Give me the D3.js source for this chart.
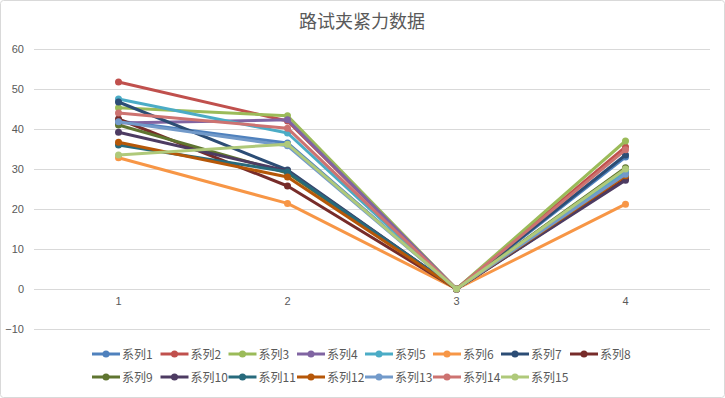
<!DOCTYPE html>
<html>
<head>
<meta charset="utf-8">
<script src="https://cdn.jsdelivr.net/npm/d3@7"></script>
<style>
  html, body { margin: 0; padding: 0; background: #fff; }
  svg { display: block; }
  text { font-family: "Liberation Sans", "Noto Sans CJK SC", sans-serif; fill: #595959; }
</style>
</head>
<body>
<svg id="chart" width="725" height="398"></svg>
<script>
const title = "路试夹紧力数据";
const categories = ["1", "2", "3", "4"];
const seriesNames = ["系列1","系列2","系列3","系列4","系列5","系列6","系列7","系列8","系列9","系列10","系列11","系列12","系列13","系列14","系列15"];
const seriesColors = ["#4F81BD","#C0504D","#9BBB59","#8064A2","#4BACC6","#F79646","#2C4D75","#772C2A","#5F7530","#4D3B62","#276A7C","#B65708","#729ACA","#CD7371","#AFC97A"];
const s1  = [42.0, 36.5, 0, 33.0];
const s2  = [51.75, 42.0, 0, 35.5];
const s3  = [45.3, 43.3, 0, 37.0];
const s4  = [41.5, 42.3, 0, 29.0];
const s5  = [47.5, 39.0, 0, 29.5];
const s6  = [32.8, 21.4, 0, 21.2];
const s7  = [46.75, 29.75, 0, 33.5];
const s8  = [42.5, 25.75, 0, 27.5];
const s9  = [41.0, 29.0, 0, 30.3];
const s10 = [39.2, 29.5, 0, 27.2];
const s11 = [36.0, 29.3, 0, 28.5];
const s12 = [36.7, 28.0, 0, 28.3];
const s13 = [41.8, 35.8, 0, 28.7];
const s14 = [44.0, 40.2, 0, 34.8];
const s15 = [33.5, 36.2, 0, 30.0];
const seriesValues = [s1,s2,s3,s4,s5,s6,s7,s8,s9,s10,s11,s12,s13,s14,s15];
const yTicks = [-10, 0, 10, 20, 30, 40, 50, 60];

const svg = d3.select("#chart");

svg.append("rect").attr("x",0.5).attr("y",0.5).attr("width",724).attr("height",397)
  .attr("rx",3).attr("fill","#fff").attr("stroke","#D9D9D9");

svg.append("text").attr("x",362).attr("y",28).attr("text-anchor","middle")
  .style("font-size","18px").style("font-family","'Noto Sans CJK SC', sans-serif").text(title);

const x = d3.scaleBand().domain(categories).range([34, 710]);
const y = d3.scaleLinear().domain([-10, 60]).range([329, 49]);
const cx = c => x(c) + x.bandwidth() / 2;

// gridlines
svg.append("g").selectAll("line").data(yTicks).join("line")
  .attr("x1", 34).attr("x2", 710)
  .attr("y1", d => Math.round(y(d)) + 0.5).attr("y2", d => Math.round(y(d)) + 0.5)
  .attr("stroke", "#D9D9D9").attr("stroke-width", 1);

// y axis labels
const yAxis = d3.axisLeft(y).tickValues(yTicks).tickSize(0).tickPadding(0);
const gy = svg.append("g").attr("transform", "translate(24,0)").call(yAxis);
gy.select(".domain").remove();
gy.selectAll("text").style("font-size", "11px").style("fill", "#595959")
  .style("font-family", "'Liberation Sans', sans-serif");

// x axis labels
const xAxis = d3.axisBottom(x).tickSize(0).tickPadding(0);
const gx = svg.append("g").attr("transform", `translate(0,${y(0) + 8})`).call(xAxis);
gx.select(".domain").remove();
gx.selectAll("text").style("font-size", "11px").style("fill", "#595959")
  .style("font-family", "'Liberation Sans', sans-serif");

// series
const line = d3.line().x((d, i) => cx(categories[i])).y(d => y(d));
seriesValues.forEach((vals, si) => {
  const g = svg.append("g");
  g.append("path").attr("d", line(vals)).attr("fill", "none")
    .attr("stroke", seriesColors[si]).attr("stroke-width", 3).attr("stroke-linejoin", "round");
  g.selectAll("circle").data(vals).join("circle")
    .attr("cx", (d, i) => cx(categories[i])).attr("cy", d => y(d)).attr("r", 3.5)
    .attr("fill", seriesColors[si]);
});

// legend
const colX = [92, 160.5, 228.5, 297, 365, 433, 501, 570];
const rowY = [354, 377];
const leg = svg.append("g");
seriesNames.forEach((name, i) => {
  const lx = colX[i % 8], ly = rowY[Math.floor(i / 8)];
  const g = leg.append("g");
  g.append("line").attr("x1", lx).attr("x2", lx + 28).attr("y1", ly).attr("y2", ly)
    .attr("stroke", seriesColors[i]).attr("stroke-width", 3);
  g.append("circle").attr("cx", lx + 14).attr("cy", ly).attr("r", 3.5).attr("fill", seriesColors[i]);
  g.append("text").attr("x", lx + 30).attr("y", ly + 4.5)
    .style("font-size", "12px").style("font-family", "'Noto Sans CJK SC', sans-serif").text(name);
});
</script>
</body>
</html>
